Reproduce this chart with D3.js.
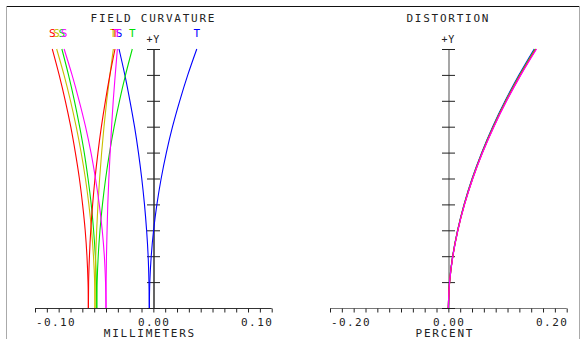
<!DOCTYPE html>
<html><head><meta charset="utf-8">
<script src="https://cdn.jsdelivr.net/npm/d3@7"></script>
<style>
body{margin:0;background:#fff}
svg{display:block}
text{font-family:"DejaVu Sans Mono",monospace;fill:#222}
</style>
</head><body>
<svg id="c" width="586" height="339"></svg>
<script>
// ---------- DATA ----------
const fieldFrac = [0, 0.1, 0.2, 0.3, 0.4, 0.5, 0.6, 0.7, 0.8, 0.9, 1.0];
const seriesNames = ["blue", "green", "olive", "red", "magenta"];
const seriesColors = ["#0000ff", "#00e000", "#c8c000", "#ff0000", "#ff00ff"];
// field curvature (mm), sagittal
const sagBlue    = [-0.0034,-0.0037,-0.0044,-0.0057,-0.0075,-0.0098,-0.0126,-0.0159,-0.0198,-0.0241,-0.0290];
const sagGreen   = [-0.0478,-0.0481,-0.0490,-0.0505,-0.0525,-0.0552,-0.0584,-0.0623,-0.0667,-0.0717,-0.0773];
const sagOlive   = [-0.0493,-0.0496,-0.0506,-0.0522,-0.0545,-0.0574,-0.0610,-0.0652,-0.0700,-0.0755,-0.0817];
const sagRed     = [-0.0549,-0.0552,-0.0561,-0.0576,-0.0598,-0.0625,-0.0659,-0.0698,-0.0744,-0.0796,-0.0854];
const sagMagenta = [-0.0400,-0.0404,-0.0414,-0.0432,-0.0457,-0.0489,-0.0527,-0.0573,-0.0627,-0.0687,-0.0754];
// field curvature (mm), tangential
const tanBlue    = [-0.0034,-0.0030,-0.0018, 0.0002, 0.0030, 0.0066, 0.0110, 0.0162, 0.0223, 0.0291, 0.0367];
const tanGreen   = [-0.0478,-0.0475,-0.0466,-0.0451,-0.0430,-0.0403,-0.0370,-0.0331,-0.0286,-0.0235,-0.0178];
const tanOlive   = [-0.0493,-0.0491,-0.0487,-0.0479,-0.0468,-0.0454,-0.0437,-0.0417,-0.0394,-0.0367,-0.0338];
const tanRed     = [-0.0549,-0.0547,-0.0540,-0.0529,-0.0513,-0.0493,-0.0468,-0.0439,-0.0405,-0.0367,-0.0324];
const tanMagenta = [-0.0400,-0.0399,-0.0396,-0.0391,-0.0385,-0.0376,-0.0365,-0.0353,-0.0339,-0.0322,-0.0304];
// distortion (%)
const distBlue    = [0, 0.0020, 0.0073, 0.0156, 0.0266, 0.0402, 0.0564, 0.0750, 0.0961, 0.1195, 0.1452];
const distGreen   = [0, 0.0020, 0.0074, 0.0158, 0.0269, 0.0406, 0.0569, 0.0757, 0.0970, 0.1206, 0.1466];
const distOlive   = [0, 0.0021, 0.0075, 0.0159, 0.0271, 0.0409, 0.0573, 0.0762, 0.0976, 0.1214, 0.1476];
const distRed     = [0, 0.0021, 0.0075, 0.0160, 0.0272, 0.0411, 0.0576, 0.0766, 0.0981, 0.1220, 0.1483];
const distMagenta = [0, 0.0021, 0.0076, 0.0161, 0.0274, 0.0413, 0.0579, 0.0770, 0.0986, 0.1226, 0.1490];

const fcTickLabels = ["-0.10", "0.00", "0.10"];
const distTickLabels = ["-0.20", "0.00", "0.20"];

const sagAll = [sagBlue, sagGreen, sagOlive, sagRed, sagMagenta];
const tanAll = [tanBlue, tanGreen, tanOlive, tanRed, tanMagenta];
const distAll = [distBlue, distGreen, distOlive, distRed, distMagenta];

// ---------- DRAW ----------
const svg = d3.select("#c");
const yScale = d3.scaleLinear().domain([0, 1]).range([308, 49]);
const xFC = d3.scaleLinear().domain([-0.1, 0.1]).range([35, 271.7]);
const xD = d3.scaleLinear().domain([-0.2, 0.2]).range([330, 566.7]);

// frame
svg.append("line").attr("x1", 6).attr("x2", 580).attr("y1", 6.5).attr("y2", 6.5).attr("stroke", "#111");
svg.append("line").attr("x1", 6.5).attr("x2", 6.5).attr("y1", 6).attr("y2", 339).attr("stroke", "#aaa");
svg.append("line").attr("x1", 579.5).attr("x2", 579.5).attr("y1", 6).attr("y2", 339).attr("stroke", "#aaa");

function panel(xs, xLabels, title, axisTitle, yAxisColor, xAxisColor) {
  const cx = xs(0);
  svg.append("text").attr("x", cx).attr("y", 21.5).attr("text-anchor", "middle")
    .style("font-size", "11px").style("letter-spacing", "1.75px").text(title);
  // x axis
  const ax = d3.axisBottom(xs).tickValues(d3.range(21).map(i => xs.domain()[0] + i * (xs.domain()[1] - xs.domain()[0]) / 20))
    .tickSize(4).tickFormat("");
  const g = svg.append("g").attr("transform", "translate(0,308.5)").call(ax);
  g.select(".domain").attr("stroke", xAxisColor).attr("d", `M${xs.range()[0]},0H${xs.range()[1]}`);
  g.selectAll(".tick line").attr("stroke", "#222");
  // x tick labels
  const vals = [xs.domain()[0], 0, xs.domain()[1]];
  const anchors = ["start", "middle", "end"];
  vals.forEach((v, i) => {
    svg.append("text").attr("x", xs(v) + (i === 0 ? 1 : (i === 2 ? 1.5 : 0.8))).attr("y", 325.5)
      .attr("text-anchor", anchors[i]).style("font-size", "11px").style("letter-spacing", "1.4px").text(xLabels[i]);
  });
  svg.append("text").attr("x", cx - 3.5).attr("y", 337).attr("text-anchor", "middle")
    .style("font-size", "11px").style("letter-spacing", "1.75px").text(axisTitle);
  // y axis
  const ay = d3.axisLeft(yScale).tickValues(d3.range(0, 1.0001, 0.1)).tickSize(0).tickFormat("");
  const gy = svg.append("g").attr("transform", `translate(${Math.round(cx) + 0.5},0)`).call(ay);
  gy.select(".domain").attr("stroke", yAxisColor).attr("stroke-width", 1.3);
  gy.selectAll(".tick line").attr("x1", -6.5).attr("x2", 6.5).attr("stroke", "#222");
  svg.append("text").attr("x", cx).attr("y", 43).attr("text-anchor", "middle")
    .style("font-size", "10px").style("letter-spacing", "0.8px").text("+Y");
}

panel(xFC, fcTickLabels, "FIELD CURVATURE", "MILLIMETERS", "#111", "#333");
panel(xD, distTickLabels, "DISTORTION", "PERCENT", "#777", "#777");

const lineFC = d3.line().x(d => xFC(d[1])).y(d => yScale(d[0])).curve(d3.curveMonotoneY);
const lineD = d3.line().x(d => xD(d[1])).y(d => yScale(d[0])).curve(d3.curveMonotoneY);

seriesColors.forEach((col, i) => {
  const s = fieldFrac.map((f, k) => [f, sagAll[i][k]]);
  const t = fieldFrac.map((f, k) => [f, tanAll[i][k]]);
  svg.append("path").attr("d", lineFC(s)).attr("fill", "none").attr("stroke", col).attr("stroke-width", 1.1);
  svg.append("path").attr("d", lineFC(t)).attr("fill", "none").attr("stroke", col).attr("stroke-width", 1.1);
  const d = fieldFrac.map((f, k) => [f, distAll[i][k]]);
  svg.append("path").attr("d", lineD(d)).attr("fill", "none").attr("stroke", col).attr("stroke-width", 1.2);
});

// S / T labels above curve tops
seriesColors.forEach((col, i) => {
  const sTop = sagAll[i][sagAll[i].length - 1];
  const tTop = tanAll[i][tanAll[i].length - 1];
  svg.append("text").attr("x", xFC(sTop)).attr("y", 37).attr("text-anchor", "middle")
    .style("font-size", "11px").style("fill", col).text("S");
  svg.append("text").attr("x", xFC(tTop)).attr("y", 37).attr("text-anchor", "middle")
    .style("font-size", "11px").style("fill", col).text("T");
});
</script>
</body></html>
